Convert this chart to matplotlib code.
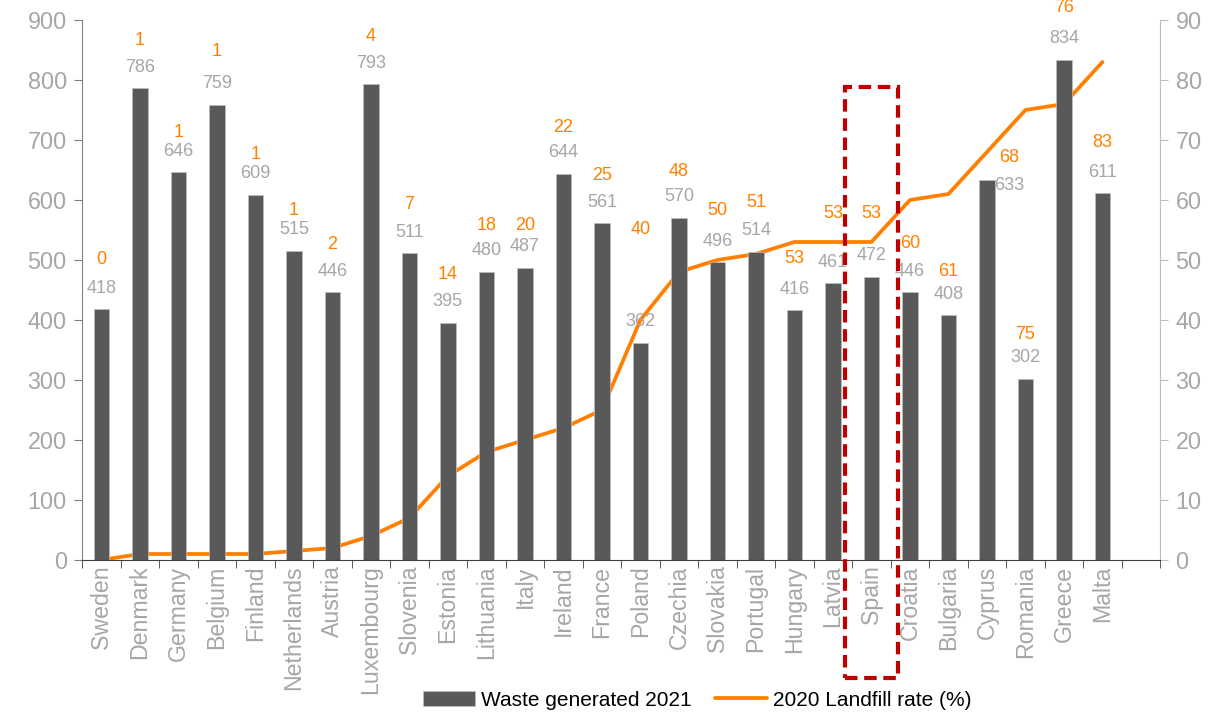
import matplotlib.pyplot as plt
from matplotlib.patches import Rectangle
import numpy as np

plt.rcParams['font.family'] = ['Liberation Sans', 'DejaVu Sans']

countries = ['Sweden', 'Denmark', 'Germany', 'Belgium', 'Finland', 'Netherlands',
             'Austria', 'Luxembourg', 'Slovenia', 'Estonia', 'Lithuania', 'Italy',
             'Ireland', 'France', 'Poland', 'Czechia', 'Slovakia', 'Portugal',
             'Hungary', 'Latvia', 'Spain', 'Croatia', 'Bulgaria', 'Cyprus',
             'Romania', 'Greece', 'Malta']
waste = [418, 786, 646, 759, 609, 515, 446, 793, 511, 395, 480, 487, 644, 561,
         362, 570, 496, 514, 416, 461, 472, 446, 408, 633, 302, 834, 611]
landfill = [0, 1, 1, 1, 1, 1.5, 2, 4, 7, 14, 18, 20, 22, 25, 40, 48, 50, 51,
            53, 53, 53, 60, 61, 68, 75, 76, 83]
landfill_labels = ['0', '1', '1', '1', '1', '1', '2', '4', '7', '14', '18', '20',
                   '22', '25', '40', '48', '50', '51', '53', '53', '53', '60',
                   '61', '68', '75', '76', '83']
# where the orange labels sit, in left-axis units (as placed in the original)
landfill_label_y = [500, 865, 713, 848, 675, 582, 525, 872, 592, 475, 557, 558,
                    720, 640, 550, 647, 582, 595, 502, 577, 577, 527, 480, 670,
                    375, 920, 695]
# Cyprus labels were nudged sideways / down in the original
label_shift = {'Cyprus': (0.57, -26)}

GREY_TXT = '#A6A6A6'
ORANGE = '#FF8000'
BAR = '#595959'

fig = plt.figure(figsize=(12.3, 7.14), dpi=100)
ax = fig.add_axes([0.0667, 0.2157, 0.8766, 0.7563])
ax2 = ax.twinx()

x = np.arange(len(countries))
bars = ax.bar(x, waste, width=0.4, color=BAR, edgecolor='#BFBFBF', linewidth=0.5,
              label='Waste generated 2021', zorder=2)
line, = ax2.plot(x, landfill, color=ORANGE, lw=2.7, label='2020 Landfill rate (%)',
                 solid_capstyle='round', zorder=3)
ax.set_zorder(ax2.get_zorder() + 1)
ax.patch.set_visible(False)

for c, xi, v in zip(countries, x, waste):
    dx, dy = label_shift.get(c, (0, 0))
    ax.annotate(str(v), (xi + dx, v), xytext=(0, 21 + dy), textcoords='offset pixels',
                ha='center', va='center', fontsize=13, color=GREY_TXT)
for c, xi, yl, t in zip(countries, x, landfill_label_y, landfill_labels):
    dx, _ = label_shift.get(c, (0, 0))
    ax.text(xi + dx, yl, t, ha='center', va='center', fontsize=13, color=ORANGE,
            clip_on=False)

ax.set_xlim(-0.5, 27.5)
ax.set_ylim(0, 900)
ax2.set_ylim(0, 90)
ax.set_yticks(range(0, 901, 100))
ax2.set_yticks(range(0, 91, 10))
ax.set_xticks(x)
ax.set_xticklabels(countries, rotation=90, fontsize=16.7, color=GREY_TXT)
ax.set_xticks(np.arange(-0.5, 28, 1), minor=True)
ax.tick_params(axis='x', which='major', length=0, pad=4)
ax.tick_params(axis='x', which='minor', length=6, color='#404040', direction='out')
ax.tick_params(axis='y', labelsize=16.8, labelcolor=GREY_TXT, color='#808080',
               length=6, pad=5)
ax2.tick_params(axis='y', labelsize=16.8, labelcolor=GREY_TXT, color='#BFBFBF',
                length=6, pad=5)

for a in (ax, ax2):
    a.spines['top'].set_visible(False)
ax.spines['right'].set_visible(False)
ax2.spines['left'].set_visible(False)
ax2.spines['bottom'].set_visible(False)
ax.spines['left'].set_color('#808080')
ax.spines['bottom'].set_color('#404040')
ax2.spines['right'].set_color('#BFBFBF')

# highlight box around Spain
si = countries.index('Spain')
ax.add_patch(Rectangle((si - 0.68, -197), 1.36, 985, fill=False, ec='#C00000',
                       lw=3, ls=(0, (3, 1.6)), clip_on=False, zorder=5))

fig.legend([bars, line], ['Waste generated 2021', '2020 Landfill rate (%)'],
           loc='lower center', bbox_to_anchor=(0.567, -0.02), ncol=2,
           frameon=False, fontsize=15, handlelength=2.5, handleheight=0.7,
           columnspacing=1.1, handletextpad=0.3)

fig.savefig('out.png', dpi=100)
